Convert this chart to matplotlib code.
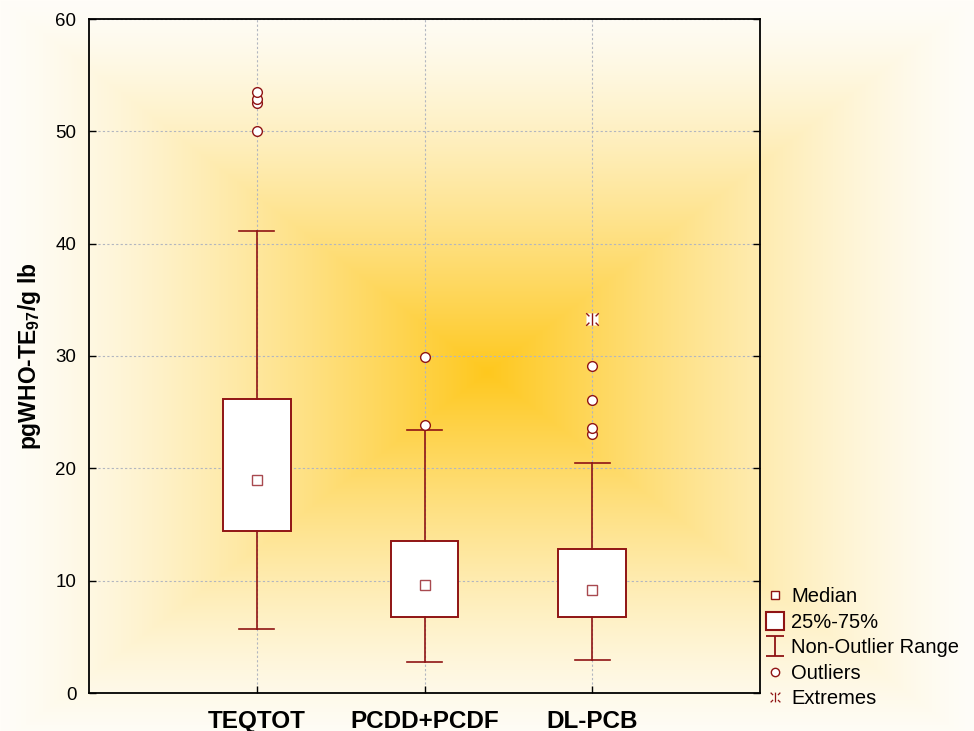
import numpy as np
import matplotlib
matplotlib.use("Agg")
import matplotlib.pyplot as plt
from matplotlib.lines import Line2D
from matplotlib.path import Path

matplotlib.rcParams.update({
    "font.family": "Liberation Sans",
    "mathtext.fontset": "custom",
    "mathtext.rm": "Liberation Sans",
    "mathtext.bf": "Liberation Sans:bold",
})

# box-plot summary per congener group (pg WHO-TE97 / g lipid)
categories = ["TEQTOT", "PCDD+PCDF", "DL-PCB"]
medians  = [19.0, 9.6, 9.2]
q1       = [14.4, 6.8, 6.8]
q3       = [26.2, 13.5, 12.8]
whis_lo  = [5.7, 2.8, 2.9]
whis_hi  = [41.1, 23.4, 20.5]
outliers = [[50.0, 52.5, 52.9, 53.5], [23.9, 29.9], [23.1, 23.6, 26.1, 29.1]]
extremes = [[], [], [33.3]]

RED = "#8f1414"
GRID = "#b2b6c0"

fig = plt.figure(figsize=(9.74, 7.31), dpi=100)

# rectangular yellow gradient behind everything
bg = fig.add_axes([0, 0, 1, 1], zorder=0)
bg.axis("off")
W, H = 974, 731
cx, cy = 487, 372
xx, yy = np.meshgrid(np.arange(W), np.arange(H))
t = np.maximum(np.abs(xx - cx) / cx, np.abs(yy - cy) / cy)
k = (1 - np.clip(t, 0, 1)) ** 1.35
c0 = np.array([254, 200, 30]) / 255
c1 = np.array([255, 253, 248]) / 255
img = c1[None, None, :] + (c0 - c1)[None, None, :] * k[..., None]
bg.imshow(img, aspect="auto", extent=[0, 1, 0, 1], origin="upper")
bg.set_xlim(0, 1); bg.set_ylim(0, 1)

ax = fig.add_axes([89/974, 38/731, 671/974, 674/731], zorder=1)
ax.patch.set_alpha(0)

pos = np.arange(1, len(categories) + 1)
stats = []
for i, name in enumerate(categories):
    stats.append(dict(label=name, med=medians[i], q1=q1[i], q3=q3[i],
                      whislo=whis_lo[i], whishi=whis_hi[i], fliers=[]))

ax.bxp(stats, positions=pos, widths=0.405, capwidths=0.21,
       patch_artist=True, showfliers=False,
       boxprops=dict(facecolor="white", edgecolor=RED, linewidth=1.4),
       whiskerprops=dict(color=RED, linewidth=1.2),
       capprops=dict(color=RED, linewidth=1.2),
       medianprops=dict(linestyle="none"), zorder=3)

ax.plot(pos, medians, "s", ms=6.5, mfc="white", mec="#a8494f", mew=1.0,
        zorder=4, linestyle="none")
for p, vals in zip(pos, outliers):
    ax.plot([p] * len(vals), vals, "o", ms=7, mfc="white", mec=RED,
            mew=1.0, zorder=5, linestyle="none")

# extreme-value marker: vertical bar with corner ticks
ext_path = Path(
    [(0, -1), (0, 1), (-1, 1), (-0.5, 0.5), (1, 1), (0.5, 0.5),
     (-1, -1), (-0.5, -0.5), (1, -1), (0.5, -0.5)],
    [Path.MOVETO, Path.LINETO] * 5)
for p, vals in zip(pos, extremes):
    if vals:
        ax.plot([p] * len(vals), vals, "s", ms=8, mfc="white", mec="none",
                zorder=5, linestyle="none")
        ax.plot([p] * len(vals), vals, marker=ext_path, ms=9, color=RED,
                mew=1.0, zorder=6, linestyle="none")

ax.set_xlim(0, 4)
ax.set_ylim(0, 60)
ax.set_yticks(np.arange(0, 61, 10))
ax.set_xticks(pos)
ax.set_xticklabels(categories, fontsize=17.5, fontweight="bold")
ax.tick_params(axis="y", direction="in", length=5, width=1, labelsize=13.5,
               pad=9, right=True)
ax.tick_params(axis="x", direction="in", length=5, width=1, pad=12)
ax.grid(True, color=GRID, linestyle=(0, (2, 2)), linewidth=0.8, zorder=1)
ax.set_axisbelow(True)
for s in ax.spines.values():
    s.set_linewidth(1.3)

ax.set_ylabel(r"pgWHO-TE$_{\mathbf{97}}$/g lb", fontsize=16.5,
              fontweight="bold", labelpad=9)

whisk_path = Path(
    [(-0.85, 1), (0.85, 1), (0, 1), (0, -1), (-0.85, -1), (0.85, -1)],
    [Path.MOVETO, Path.LINETO, Path.MOVETO, Path.LINETO, Path.MOVETO, Path.LINETO])
handles = [
    Line2D([], [], marker="s", ms=6, mfc="white", mec=RED, mew=1.0, ls="none"),
    Line2D([], [], marker="s", ms=12.5, mfc="white", mec=RED, mew=1.5, ls="none"),
    Line2D([], [], marker=whisk_path, ms=15, color=RED, mew=1.3, ls="none"),
    Line2D([], [], marker="o", ms=6, mfc="white", mec=RED, mew=1.0, ls="none"),
    Line2D([], [], marker=ext_path, ms=7, color=RED, mew=0.9, ls="none"),
]
labels = ["Median", "25%-75%", "Non-Outlier Range", "Outliers", "Extremes"]
fig.legend(handles, labels, loc="lower left",
           bbox_to_anchor=(766/974, 23/731), frameon=False, fontsize=14.5,
           handlelength=0.9, handletextpad=0.35, labelspacing=0.32,
           borderpad=0, borderaxespad=0)

fig.savefig("out.png", dpi=100)
